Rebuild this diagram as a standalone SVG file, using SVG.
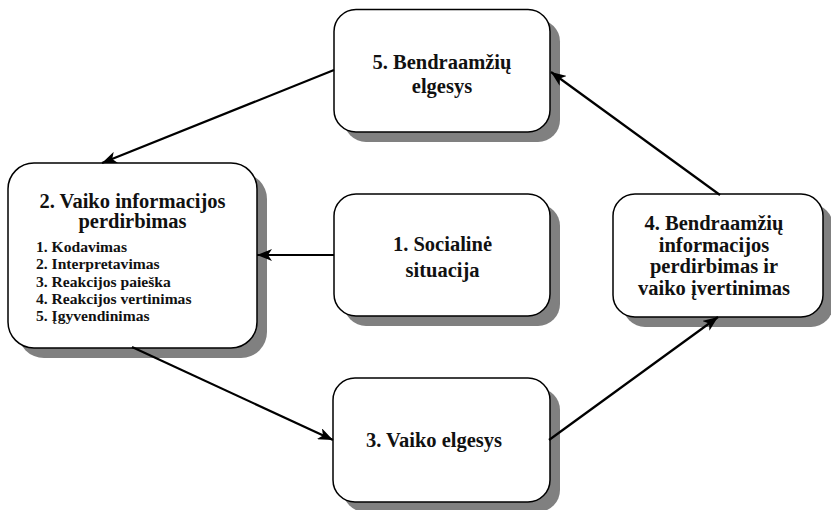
<svg xmlns="http://www.w3.org/2000/svg" width="831" height="510" viewBox="0 0 831 510">
<defs>
<style>
.shadow{fill:#808080;stroke:none}
.box{fill:#fff;stroke:#000;stroke-width:1.5}
.t{font-family:"Liberation Serif","Times New Roman",serif;font-weight:bold;font-size:20.5px;fill:#111;text-anchor:middle}
.s{font-family:"Liberation Serif","Times New Roman",serif;font-weight:bold;font-size:15.6px;fill:#111}
.c{stroke:#000;stroke-width:2.2;fill:none;marker-end:url(#ah)}
</style>
<marker id="ah" markerUnits="userSpaceOnUse" markerWidth="16" markerHeight="12" viewBox="0 0 16 12" refX="15" refY="6" orient="auto">
<path d="M0,0 L15,6 L0,12 L4,6 Z" fill="#000"/>
</marker>
</defs>
<g id="node5">
<rect class="shadow" x="344" y="19.5" width="216" height="122.5" rx="22"/>
<rect class="box" x="334" y="9.5" width="216" height="122.5" rx="22"/>
<text class="t" x="442" y="69">5. Bendraamžių</text>
<text class="t" x="442" y="93">elgesys</text>
</g>
<g id="node2">
<rect class="shadow" x="18" y="173" width="249" height="185" rx="26"/>
<rect class="box" x="8" y="163" width="249" height="185" rx="26"/>
<text class="t" x="132.5" y="208" font-size="21.5">2. Vaiko informacijos</text>
<text class="t" x="132.5" y="228" font-size="21.5">perdirbimas</text>
<text class="s" x="36" y="252">1. Kodavimas</text>
<text class="s" x="36" y="269.3">2. Interpretavimas</text>
<text class="s" x="36" y="286.6">3. Reakcijos paieška</text>
<text class="s" x="36" y="304">4. Reakcijos vertinimas</text>
<text class="s" x="36" y="321.3">5. Įgyvendinimas</text>
</g>
<g id="node1">
<rect class="shadow" x="344" y="204" width="216" height="122" rx="22"/>
<rect class="box" x="334" y="194" width="216" height="122" rx="22"/>
<text class="t" x="442.5" y="251">1. Socialinė</text>
<text class="t" x="442.5" y="277">situacija</text>
</g>
<g id="node4">
<rect class="shadow" x="623" y="204" width="210" height="123" rx="22"/>
<rect class="box" x="613" y="194" width="210" height="123" rx="22"/>
<text class="t" x="714" y="230">4. Bendraamžių</text>
<text class="t" x="714" y="251.5">informacijos</text>
<text class="t" x="714" y="273">perdirbimas ir</text>
<text class="t" x="714" y="294.5">vaiko įvertinimas</text>
</g>
<g id="node3">
<rect class="shadow" x="343" y="388" width="217" height="124" rx="22"/>
<rect class="box" x="333" y="378" width="217" height="124" rx="22"/>
<text class="t" x="434" y="447">3. Vaiko elgesys</text>
</g>
<g id="connectors">
<line class="c" x1="334" y1="70" x2="102" y2="163"/>
<line class="c" x1="334" y1="255" x2="257" y2="255"/>
<line class="c" x1="132" y1="347" x2="333" y2="440"/>
<line class="c" x1="549" y1="440" x2="718" y2="317"/>
<line class="c" x1="720" y1="195" x2="551" y2="72"/>
</g>
</svg>
